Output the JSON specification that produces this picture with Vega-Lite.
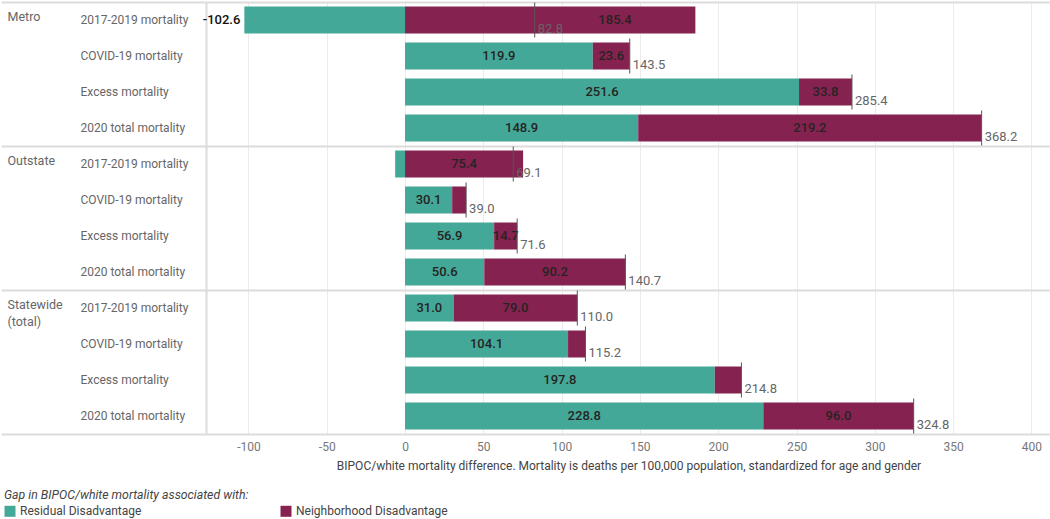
{
  "$schema": "https://vega.github.io/schema/vega-lite/v6.json",
  "width": 845,
  "height": 432,
  "padding": {"left": 0, "top": 1, "right": 0, "bottom": 0},
  "autosize": {"type": "pad"},
  "config": {
    "font": "Roboto, sans-serif",
    "view": {"stroke": null}
  },
  "datasets": {
    "groups": [
      {"group": "Metro"},
      {"group": "Outstate"},
      {"group": "Statewide (total)"}
    ],
    "parts": [
      {"row": "Metro|2017-2019 mortality", "component": "Residual Disadvantage", "seg": 1, "value": -102.6, "label": ""},
      {"row": "Metro|2017-2019 mortality", "component": "Neighborhood Disadvantage", "seg": 2, "value": 185.4, "label": "185.4"},
      {"row": "Metro|COVID-19 mortality", "component": "Residual Disadvantage", "seg": 1, "value": 119.9, "label": "119.9"},
      {"row": "Metro|COVID-19 mortality", "component": "Neighborhood Disadvantage", "seg": 2, "value": 23.6, "label": "23.6"},
      {"row": "Metro|Excess mortality", "component": "Residual Disadvantage", "seg": 1, "value": 251.6, "label": "251.6"},
      {"row": "Metro|Excess mortality", "component": "Neighborhood Disadvantage", "seg": 2, "value": 33.8, "label": "33.8"},
      {"row": "Metro|2020 total mortality", "component": "Residual Disadvantage", "seg": 1, "value": 148.9, "label": "148.9"},
      {"row": "Metro|2020 total mortality", "component": "Neighborhood Disadvantage", "seg": 2, "value": 219.2, "label": "219.2"},
      {"row": "Outstate|2017-2019 mortality", "component": "Residual Disadvantage", "seg": 1, "value": -6.3, "label": ""},
      {"row": "Outstate|2017-2019 mortality", "component": "Neighborhood Disadvantage", "seg": 2, "value": 75.4, "label": "75.4"},
      {"row": "Outstate|COVID-19 mortality", "component": "Residual Disadvantage", "seg": 1, "value": 30.1, "label": "30.1"},
      {"row": "Outstate|COVID-19 mortality", "component": "Neighborhood Disadvantage", "seg": 2, "value": 8.9, "label": ""},
      {"row": "Outstate|Excess mortality", "component": "Residual Disadvantage", "seg": 1, "value": 56.9, "label": "56.9"},
      {"row": "Outstate|Excess mortality", "component": "Neighborhood Disadvantage", "seg": 2, "value": 14.7, "label": "14.7"},
      {"row": "Outstate|2020 total mortality", "component": "Residual Disadvantage", "seg": 1, "value": 50.6, "label": "50.6"},
      {"row": "Outstate|2020 total mortality", "component": "Neighborhood Disadvantage", "seg": 2, "value": 90.2, "label": "90.2"},
      {"row": "Statewide (total)|2017-2019 mortality", "component": "Residual Disadvantage", "seg": 1, "value": 31.0, "label": "31.0"},
      {"row": "Statewide (total)|2017-2019 mortality", "component": "Neighborhood Disadvantage", "seg": 2, "value": 79.0, "label": "79.0"},
      {"row": "Statewide (total)|COVID-19 mortality", "component": "Residual Disadvantage", "seg": 1, "value": 104.1, "label": "104.1"},
      {"row": "Statewide (total)|COVID-19 mortality", "component": "Neighborhood Disadvantage", "seg": 2, "value": 11.1, "label": ""},
      {"row": "Statewide (total)|Excess mortality", "component": "Residual Disadvantage", "seg": 1, "value": 197.8, "label": "197.8"},
      {"row": "Statewide (total)|Excess mortality", "component": "Neighborhood Disadvantage", "seg": 2, "value": 17.0, "label": ""},
      {"row": "Statewide (total)|2020 total mortality", "component": "Residual Disadvantage", "seg": 1, "value": 228.8, "label": "228.8"},
      {"row": "Statewide (total)|2020 total mortality", "component": "Neighborhood Disadvantage", "seg": 2, "value": 96.0, "label": "96.0"}
    ],
    "totals": [
      {"row": "Metro|2017-2019 mortality", "total": 82.8},
      {"row": "Metro|COVID-19 mortality", "total": 143.5},
      {"row": "Metro|Excess mortality", "total": 285.4},
      {"row": "Metro|2020 total mortality", "total": 368.2},
      {"row": "Outstate|2017-2019 mortality", "total": 69.1},
      {"row": "Outstate|COVID-19 mortality", "total": 39.0},
      {"row": "Outstate|Excess mortality", "total": 71.6},
      {"row": "Outstate|2020 total mortality", "total": 140.7},
      {"row": "Statewide (total)|2017-2019 mortality", "total": 110.0},
      {"row": "Statewide (total)|COVID-19 mortality", "total": 115.2},
      {"row": "Statewide (total)|Excess mortality", "total": 214.8},
      {"row": "Statewide (total)|2020 total mortality", "total": 324.8}
    ]
  },
  "layer": [
    {
      "data": {"name": "groups"},
      "mark": {"type": "rule", "strokeOpacity": 0},
      "encoding": {
        "y": {
          "field": "group",
          "type": "nominal",
          "scale": {"domain": ["Metro", "Outstate", "Statewide (total)"], "paddingInner": 0, "paddingOuter": 0},
          "axis": {
            "orient": "left",
            "title": null,
            "bandPosition": 1,
            "tickExtra": true,
            "tickSize": 205,
            "tickColor": "#dcdcdc",
            "tickWidth": 2,
            "grid": true,
            "gridColor": "#dcdcdc",
            "gridWidth": 2,
            "domain": false,
            "labelAlign": "left",
            "labelBaseline": "top",
            "labelPadding": -6,
            "labelOffset": -63,
            "labelFontSize": 12.5,
            "labelColor": "#666666",
            "labelLineHeight": 17,
            "labelOverlap": false,
            "labelBound": false,
            "labelExpr": "datum.value == 'Statewide (total)' ? ['Statewide', '(total)'] : datum.value"
          }
        }
      }
    },
    {
      "layer": [
        {
          "data": {"name": "parts"},
          "mark": {"type": "bar"},
          "encoding": {
            "y": {
              "field": "row",
              "type": "nominal",
              "scale": {
                "domain": [
                  "Metro|2017-2019 mortality", "Metro|COVID-19 mortality", "Metro|Excess mortality", "Metro|2020 total mortality",
                  "Outstate|2017-2019 mortality", "Outstate|COVID-19 mortality", "Outstate|Excess mortality", "Outstate|2020 total mortality",
                  "Statewide (total)|2017-2019 mortality", "Statewide (total)|COVID-19 mortality", "Statewide (total)|Excess mortality", "Statewide (total)|2020 total mortality"
                ],
                "paddingInner": 0.25,
                "paddingOuter": 0.125
              },
              "axis": {
                "orient": "left",
                "title": null,
                "ticks": false,
                "domain": true,
                "domainColor": "#dcdcdc",
                "domainWidth": 2,
                "grid": false,
                "labelAlign": "left",
                "labelPadding": 126,
                "labelFontSize": 12,
                "labelColor": "#666666",
                "labelExpr": "split(datum.value, '|')[1]"
              }
            },
            "x": {
              "field": "value",
              "type": "quantitative",
              "stack": "zero",
              "scale": {"domain": [-127.1, 412.5], "nice": false, "zero": false},
              "axis": {
                "values": [-100, -50, 0, 50, 100, 150, 200, 250, 300, 350, 400],
                "labelExpr": "'' + datum.value",
                "title": "BIPOC/white mortality difference. Mortality is deaths per 100,000 population, standardized for age and gender",
                "grid": true,
                "gridColor": "#ececec",
                "domain": false,
                "ticks": false,
                "labelColor": "#777777",
                "labelFontSize": 12,
                "labelPadding": 7,
                "titleFontSize": 12,
                "titleFontWeight": "normal",
                "titleColor": "#444444",
                "titlePadding": 8
              }
            },
            "color": {
              "field": "component",
              "type": "nominal",
              "scale": {
                "domain": ["Residual Disadvantage", "Neighborhood Disadvantage"],
                "range": ["#44a898", "#862250"]
              },
              "legend": {
                "title": "Gap in BIPOC/white mortality associated with:",
                "orient": "none",
                "legendX": -202,
                "legendY": 487,
                "direction": "horizontal",
                "padding": 0,
                "titleFontStyle": "italic",
                "titleFontWeight": "normal",
                "titleFontSize": 12.3,
                "titleColor": "#444444",
                "titlePadding": 4,
                "titleLimit": 500,
                "symbolType": "square",
                "symbolSize": 121,
                "symbolStrokeWidth": 0,
                "labelFontSize": 12,
                "labelColor": "#444444",
                "labelOffset": 4,
                "labelLimit": 400,
                "columnPadding": 138
              }
            },
            "order": {"field": "seg"}
          }
        },
        {
          "data": {"name": "parts"},
          "transform": [{"filter": "!(datum.row == 'Metro|2017-2019 mortality' && datum.seg == 2)"}],
          "mark": {"type": "text", "fontSize": 13, "color": "#252423", "fontWeight": 500},
          "encoding": {
            "y": {"field": "row", "type": "nominal"},
            "x": {"field": "value", "type": "quantitative", "stack": "zero", "bandPosition": 0.5},
            "order": {"field": "seg"},
            "text": {"field": "label"}
          }
        },
        {
          "data": {"name": "parts"},
          "transform": [{"filter": "datum.row == 'Metro|2017-2019 mortality' && datum.seg == 2"}],
          "mark": {"type": "text", "fontSize": 13, "color": "#252423", "fontWeight": 500},
          "encoding": {
            "y": {"field": "row", "type": "nominal"},
            "x": {"field": "value", "type": "quantitative", "stack": "zero", "bandPosition": 0.723},
            "text": {"field": "label"}
          }
        },
        {
          "data": {"name": "parts"},
          "transform": [{"filter": "datum.value < -50"}],
          "mark": {"type": "text", "fontSize": 13, "color": "#111111", "fontWeight": 500, "align": "right", "dx": -4},
          "encoding": {
            "y": {"field": "row", "type": "nominal"},
            "x": {"field": "value", "type": "quantitative", "stack": null},
            "text": {"field": "value", "type": "nominal"}
          }
        },
        {
          "data": {"name": "totals"},
          "mark": {"type": "tick", "color": "#555555", "thickness": 1, "size": 35, "opacity": 1},
          "encoding": {
            "y": {"field": "row", "type": "nominal"},
            "x": {"field": "total", "type": "quantitative"}
          }
        },
        {
          "data": {"name": "totals"},
          "mark": {"type": "text", "fontSize": 13, "color": "#666666", "align": "left", "baseline": "alphabetic", "dx": 3, "dy": 13},
          "encoding": {
            "y": {"field": "row", "type": "nominal"},
            "x": {"field": "total", "type": "quantitative"},
            "text": {"field": "total", "type": "quantitative", "format": ".1f"}
          }
        }
      ]
    }
  ],
  "resolve": {"scale": {"y": "independent"}}
}
